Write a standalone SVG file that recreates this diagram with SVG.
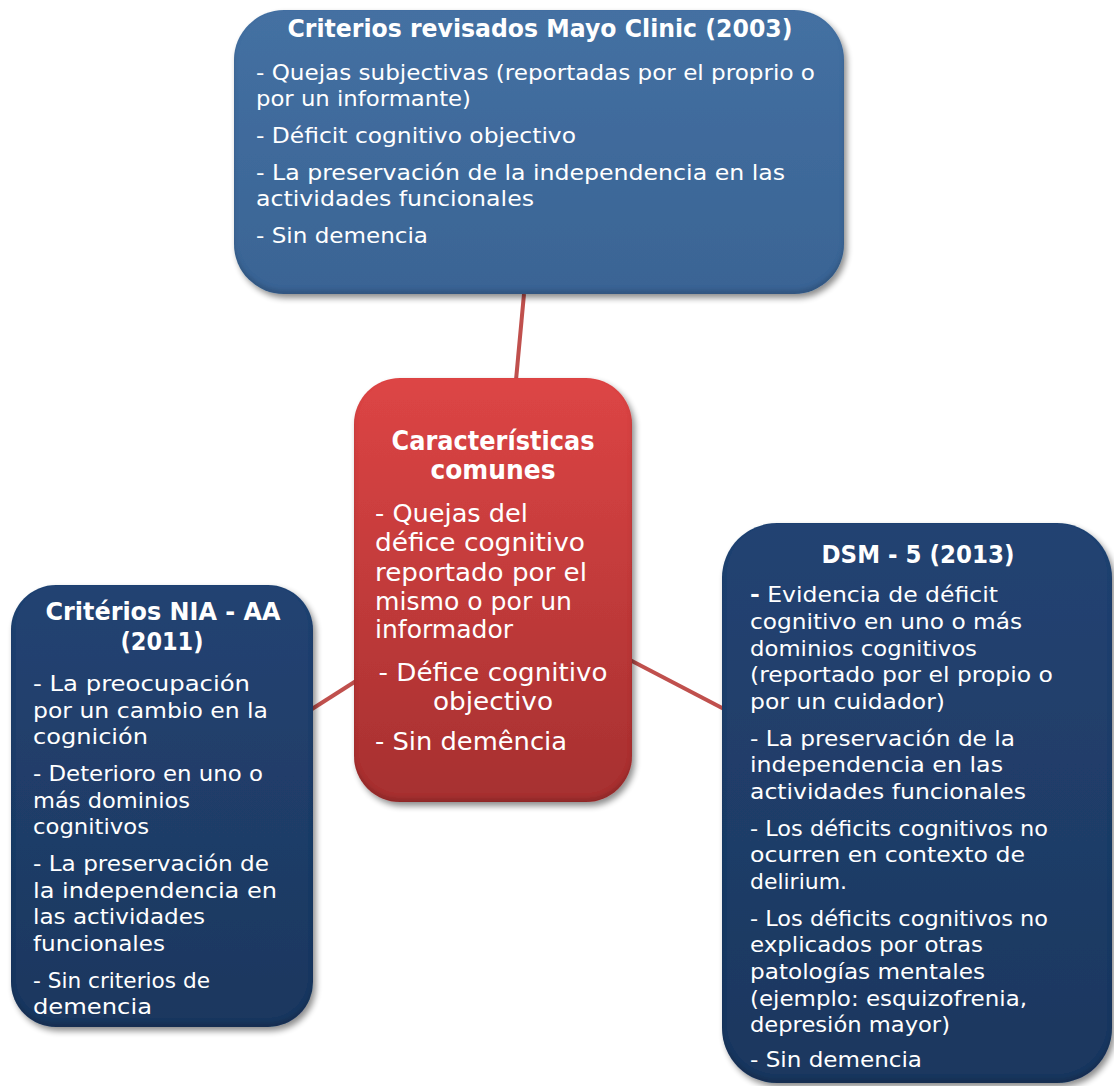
<svg xmlns="http://www.w3.org/2000/svg" width="1114" height="1086" viewBox="0 0 1114 1086">
  <defs>
    <linearGradient id="gTop" x1="0" y1="0" x2="0" y2="1">
      <stop offset="0" stop-color="#4470a2"/>
      <stop offset="1" stop-color="#3a6494"/>
    </linearGradient>
    <linearGradient id="gRed" x1="0" y1="0" x2="0" y2="1">
      <stop offset="0" stop-color="#dd4545"/>
      <stop offset="1" stop-color="#a63030"/>
    </linearGradient>
    <linearGradient id="gNavy" x1="0" y1="0" x2="0" y2="1">
      <stop offset="0" stop-color="#234372"/>
      <stop offset="1" stop-color="#1c375f"/>
    </linearGradient>
    <!-- soft drop shadow plus a darker inner rim along the lower edge -->
    <filter id="shadow" x="-10%" y="-10%" width="125%" height="125%">
      <feGaussianBlur in="SourceAlpha" stdDeviation="3" result="blur"/>
      <feOffset in="blur" dx="3" dy="4" result="off"/>
      <feComponentTransfer in="off" result="drop"><feFuncA type="linear" slope="0.45"/></feComponentTransfer>
      <feOffset in="SourceAlpha" dy="-4" result="up"/>
      <feGaussianBlur in="up" stdDeviation="2" result="upb"/>
      <feComposite in="SourceAlpha" in2="upb" operator="out" result="edge"/>
      <feFlood flood-color="#000000" flood-opacity="0.28"/>
      <feComposite in2="edge" operator="in" result="inner"/>
      <feMerge><feMergeNode in="drop"/><feMergeNode in="SourceGraphic"/><feMergeNode in="inner"/></feMerge>
    </filter>
  </defs>
  <style>
    .box { filter: url(#shadow); }
    .title { font-family: "DejaVu Sans", "Liberation Sans", sans-serif; font-weight: bold; fill: #ffffff; text-anchor: middle; }
    .body { font-family: "DejaVu Sans", "Liberation Sans", sans-serif; fill: #ffffff; }
    .link { stroke: #c0504d; stroke-width: 4; fill: none; }
  </style>

  <!-- connectors between the central node and the three criteria sets -->
  <g id="connectors">
    <line class="link" x1="524" y1="294" x2="516" y2="380"/>
    <line class="link" x1="312" y1="709" x2="356" y2="681"/>
    <line class="link" x1="630" y1="660" x2="724" y2="709"/>
  </g>

  <!-- Mayo Clinic criteria -->
  <g id="node-mayo">
    <rect class="box" x="234" y="10" width="610" height="284" rx="50" fill="url(#gTop)"/>
    <text class="title" x="540" y="37" font-size="24" textLength="505" lengthAdjust="spacingAndGlyphs">Criterios revisados Mayo Clinic (2003)</text>
    <g class="body" font-size="22">
      <text x="256" y="80" textLength="559" lengthAdjust="spacingAndGlyphs">- Quejas subjectivas (reportadas por el proprio o</text>
      <text x="256" y="106" textLength="215" lengthAdjust="spacingAndGlyphs">por un informante)</text>
      <text x="256" y="143" textLength="320" lengthAdjust="spacingAndGlyphs">- Déficit cognitivo objectivo</text>
      <text x="256" y="180" textLength="529" lengthAdjust="spacingAndGlyphs">- La preservación de la independencia en las</text>
      <text x="256" y="206" textLength="278" lengthAdjust="spacingAndGlyphs">actividades funcionales</text>
      <text x="256" y="243" textLength="172" lengthAdjust="spacingAndGlyphs">- Sin demencia</text>
    </g>
  </g>

  <!-- common features -->
  <g id="node-comunes">
    <rect class="box" x="354" y="378" width="278" height="424" rx="46" fill="url(#gRed)"/>
    <text class="title" x="493" y="450" font-size="26" textLength="203" lengthAdjust="spacingAndGlyphs">Características</text>
    <text class="title" x="493" y="479" font-size="26" textLength="125" lengthAdjust="spacingAndGlyphs">comunes</text>
    <g class="body" font-size="25">
      <text x="375" y="522" textLength="153" lengthAdjust="spacingAndGlyphs">- Quejas del</text>
      <text x="375" y="551" textLength="210" lengthAdjust="spacingAndGlyphs">défice cognitivo</text>
      <text x="375" y="581" textLength="212" lengthAdjust="spacingAndGlyphs">reportado por el</text>
      <text x="375" y="610" textLength="197" lengthAdjust="spacingAndGlyphs">mismo o por un</text>
      <text x="375" y="638" textLength="138" lengthAdjust="spacingAndGlyphs">informador</text>
      <text x="493" y="681" text-anchor="middle" textLength="229" lengthAdjust="spacingAndGlyphs">- Défice cognitivo</text>
      <text x="493" y="710" text-anchor="middle" textLength="120" lengthAdjust="spacingAndGlyphs">objectivo</text>
      <text x="375" y="750" textLength="192" lengthAdjust="spacingAndGlyphs">- Sin demência</text>
    </g>
  </g>

  <!-- NIA-AA criteria -->
  <g id="node-nia">
    <rect class="box" x="11" y="585" width="302" height="442" rx="45" fill="url(#gNavy)"/>
    <text class="title" x="163" y="620" font-size="24" textLength="235" lengthAdjust="spacingAndGlyphs">Critérios NIA - AA</text>
    <text class="title" x="162" y="650" font-size="24" textLength="83" lengthAdjust="spacingAndGlyphs">(2011)</text>
    <g class="body" font-size="22">
      <text x="33" y="691" textLength="217" lengthAdjust="spacingAndGlyphs">- La preocupación</text>
      <text x="33" y="718" textLength="235" lengthAdjust="spacingAndGlyphs">por un cambio en la</text>
      <text x="33" y="744" textLength="115" lengthAdjust="spacingAndGlyphs">cognición</text>
      <text x="33" y="781" textLength="230" lengthAdjust="spacingAndGlyphs">- Deterioro en uno o</text>
      <text x="33" y="808" textLength="157" lengthAdjust="spacingAndGlyphs">más dominios</text>
      <text x="33" y="834" textLength="116" lengthAdjust="spacingAndGlyphs">cognitivos</text>
      <text x="33" y="871" textLength="236" lengthAdjust="spacingAndGlyphs">- La preservación de</text>
      <text x="33" y="898" textLength="244" lengthAdjust="spacingAndGlyphs">la independencia en</text>
      <text x="33" y="924" textLength="172" lengthAdjust="spacingAndGlyphs">las actividades</text>
      <text x="33" y="951" textLength="132" lengthAdjust="spacingAndGlyphs">funcionales</text>
      <text x="33" y="988" textLength="177" lengthAdjust="spacingAndGlyphs">- Sin criterios de</text>
      <text x="33" y="1014" textLength="119" lengthAdjust="spacingAndGlyphs">demencia</text>
    </g>
  </g>

  <!-- DSM-5 criteria -->
  <g id="node-dsm5">
    <rect class="box" x="722" y="523" width="390" height="560" rx="55" fill="url(#gNavy)"/>
    <text class="title" x="918" y="563" font-size="24" textLength="193" lengthAdjust="spacingAndGlyphs">DSM - 5 (2013)</text>
    <g class="body" font-size="22">
      <text x="750" y="602" textLength="248" lengthAdjust="spacingAndGlyphs"><tspan font-weight="bold">-</tspan> Evidencia de déficit</text>
      <text x="750" y="629" textLength="272" lengthAdjust="spacingAndGlyphs">cognitivo en uno o más</text>
      <text x="750" y="656" textLength="227" lengthAdjust="spacingAndGlyphs">dominios cognitivos</text>
      <text x="750" y="682" textLength="303" lengthAdjust="spacingAndGlyphs">(reportado por el propio o</text>
      <text x="750" y="709" textLength="195" lengthAdjust="spacingAndGlyphs">por un cuidador)</text>
      <text x="750" y="746" textLength="265" lengthAdjust="spacingAndGlyphs">- La preservación de la</text>
      <text x="750" y="772" textLength="253" lengthAdjust="spacingAndGlyphs">independencia en las</text>
      <text x="750" y="799" textLength="276" lengthAdjust="spacingAndGlyphs">actividades funcionales</text>
      <text x="750" y="836" textLength="298" lengthAdjust="spacingAndGlyphs">- Los déficits cognitivos no</text>
      <text x="750" y="862" textLength="275" lengthAdjust="spacingAndGlyphs">ocurren en contexto de</text>
      <text x="750" y="889" textLength="97" lengthAdjust="spacingAndGlyphs">delirium.</text>
      <text x="750" y="926" textLength="298" lengthAdjust="spacingAndGlyphs">- Los déficits cognitivos no</text>
      <text x="750" y="952" textLength="233" lengthAdjust="spacingAndGlyphs">explicados por otras</text>
      <text x="750" y="979" textLength="235" lengthAdjust="spacingAndGlyphs">patologías mentales</text>
      <text x="750" y="1006" textLength="277" lengthAdjust="spacingAndGlyphs">(ejemplo: esquizofrenia,</text>
      <text x="750" y="1032" textLength="200" lengthAdjust="spacingAndGlyphs">depresión mayor)</text>
      <text x="750" y="1067" textLength="172" lengthAdjust="spacingAndGlyphs">- Sin demencia</text>
    </g>
  </g>
</svg>
